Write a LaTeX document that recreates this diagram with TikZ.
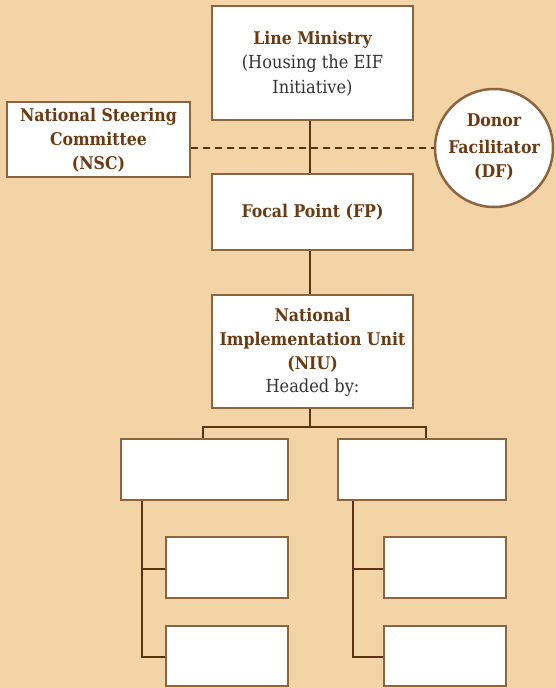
\documentclass[tikz,border=0pt]{standalone}
\usepackage{fontspec}
\setmainfont{DejaVu Serif Condensed}
\definecolor{bg}{HTML}{F2D4A6}
\definecolor{boxline}{HTML}{8C6540}
\definecolor{conn}{HTML}{5A3212}
\definecolor{titlec}{HTML}{6A3A12}
\definecolor{bodyc}{HTML}{333333}
\begin{document}
\begin{tikzpicture}[x=1pt,y=-1pt,
  box/.style={draw=boxline,fill=white,line width=2.5pt,inner sep=0pt},
  conline/.style={draw=conn,line width=2pt},
  ttl/.style={font=\bfseries\fontsize{17.5}{24}\selectfont,text=titlec,align=center},
  bdy/.style={font=\fontsize{18}{24}\selectfont,text=bodyc}]
\fill[bg] (0,0) rectangle (556,688);
\useasboundingbox (0,0) rectangle (556,688);
% connectors first
\coordinate (lmb) at (310,120);
\coordinate (fpt) at (310,174);
\coordinate (fpb) at (310,250);
\coordinate (niut) at (310,295);
\coordinate (niub) at (310,408);
\coordinate (split) at (310,427);
\coordinate (lt) at (203,439);
\coordinate (rt) at (426,439);
\coordinate (lcorner) at (203,427);
\coordinate (rcorner) at (426,427);
\coordinate (lstem) at (142,500);
\coordinate (lend) at (142,657);
\coordinate (lmid) at (142,569);
\coordinate (rstem) at (353,500);
\coordinate (rend) at (353,657);
\coordinate (rmid) at (353,569);
\coordinate (nscr) at (191,148);
\coordinate (dfl) at (435,148);
\draw[conline] (lmb) -- (fpt);
\draw[conline] (fpb) -- (niut);
\draw[conline] (niub) -- (split);
\draw[conline,line cap=rect] (lt) -- (lcorner) -- (rcorner) -- (rt);
\draw[conline] (lstem) -- (lend) -- (166,657);
\draw[conline] (lmid) -- (166,569);
\draw[conline] (rstem) -- (rend) -- (384,657);
\draw[conline] (rmid) -- (384,569);
\draw[conn,line width=2pt,dash pattern=on 7pt off 5pt] (nscr) -- (dfl);
% boxes
\draw[box] (212,6) rectangle (413,120);
\node[ttl] (lm) at (312.5,40) {Line Ministry};
\node[bdy] (lm2) at (312.5,64) {(Housing the EIF};
\node[bdy] (lm3) at (312.5,88) {Initiative)};
\draw[box] (7,102) rectangle (190,177);
\node[ttl] (nsc) at (98.5,140) {National Steering\\Committee\\(NSC)};
\draw[box] (494,148) circle (59);
\node[ttl,text width=100pt] (df) at (494,147) {\fontsize{17.5}{27}\selectfont Donor\\Facilitator\\(DF)};
\draw[box] (212,174) rectangle (413,250);
\node[ttl] (fp) at (312.5,212) {Focal Point (FP)};
\draw[box] (212,295) rectangle (413,408);
\node[ttl] (niu) at (312.5,340) {National\\Implementation Unit\\(NIU)};
\node[bdy] (hb) at (312.5,388) {Headed by:};
\draw[box] (121,439) rectangle (288,500);
\draw[box] (338,439) rectangle (506,500);
\draw[box] (166,537) rectangle (288,598);
\draw[box] (166,626) rectangle (288,686);
\draw[box] (384,537) rectangle (506,598);
\draw[box] (384,626) rectangle (506,686);
\end{tikzpicture}
\end{document}
